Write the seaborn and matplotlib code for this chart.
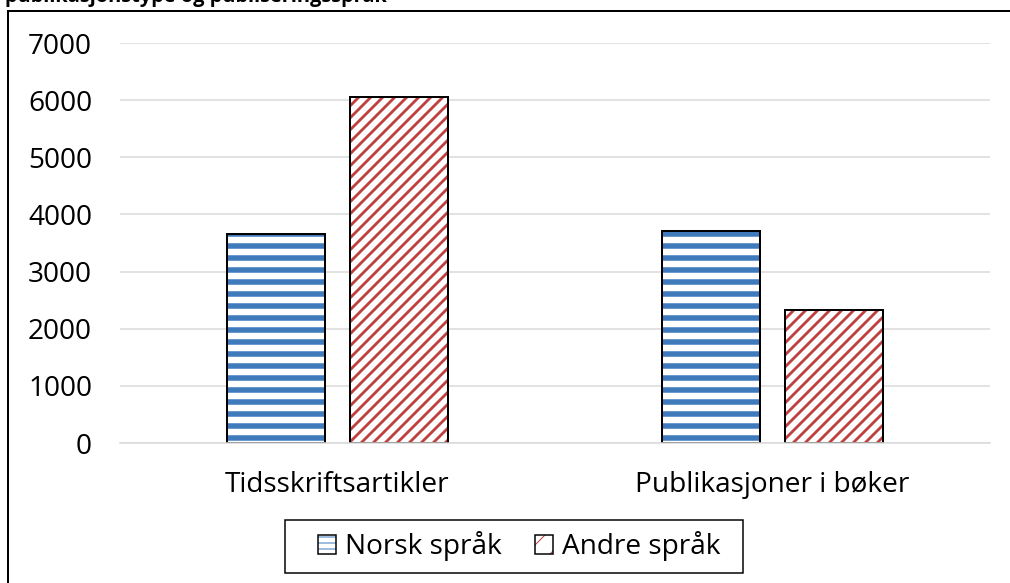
import matplotlib
matplotlib.use("Agg")
import pandas as pd
import matplotlib.pyplot as plt
import seaborn as sns
from matplotlib.patches import Patch, Rectangle
from matplotlib.legend_handler import HandlerTuple

# Data
kategorier = ["Tidsskriftsartikler", "Publikasjoner i bøker"]
spraak = ["Norsk språk", "Andre språk"]
norsk = [3660, 3710]
andre = [6050, 2330]
yticks = [0, 1000, 2000, 3000, 4000, 5000, 6000, 7000]
tittel = "publikasjonstype og publiseringsspråk"

df = pd.DataFrame({
    "kategori": kategorier * 2,
    "spraak": [spraak[0]] * len(kategorier) + [spraak[1]] * len(kategorier),
    "antall": norsk + andre,
})

sns.set_style("white")
plt.rcParams["font.family"] = ["Open Sans", "DejaVu Sans"]
plt.rcParams["text.color"] = "black"

blaa = "#3F7ABD"
roed = "#C0403F"
DPI = 72
W, H = 1010, 583
FS = 28


def hatch_lw(p, lw):
    if hasattr(p, "set_hatch_linewidth"):
        p.set_hatch_linewidth(lw)
    else:
        plt.rcParams["hatch.linewidth"] = lw


fig = plt.figure(figsize=(W / DPI, H / DPI), dpi=DPI)
ax = fig.add_axes([120 / W, 140 / H, 870 / W, 400 / H])

sns.barplot(data=df, x="kategori", y="antall", hue="spraak", hue_order=spraak,
            palette=["white", "white"], width=0.566, gap=0.21, errorbar=None,
            linewidth=0, legend=False, ax=ax)

# hatch the bars and put a black outline over them
bars = list(ax.patches)
n = len(kategorier)
for i, p in enumerate(bars):
    if i < n:
        p.set_edgecolor(blaa)
        p.set_hatch("-")
        hatch_lw(p, 5.5)
    else:
        p.set_edgecolor(roed)
        p.set_hatch("//")
        hatch_lw(p, 2.8)
    ax.add_patch(Rectangle(p.get_xy(), p.get_width(), p.get_height(), fill=False,
                           edgecolor="black", linewidth=2, zorder=p.get_zorder() + 0.1))

ax.set_ylim(0, 7000)
ax.set_xlim(-0.5, 1.5)
ax.set_yticks(yticks)
ax.set_xlabel("")
ax.set_ylabel("")
ax.yaxis.grid(True, color="#D9D9D9", linewidth=1.5)
ax.set_axisbelow(True)
for s in ["top", "right", "left"]:
    ax.spines[s].set_visible(False)
ax.spines["bottom"].set_color("#D9D9D9")
ax.spines["bottom"].set_linewidth(1.5)
ax.tick_params(axis="y", length=0, labelsize=FS, pad=28, labelcolor="black")
ax.tick_params(axis="x", length=0, labelsize=FS, pad=28, labelcolor="black")

# legend
h_norsk = Patch(facecolor="white", edgecolor=blaa, hatch="--", linewidth=0)
h_andre = Patch(facecolor="white", edgecolor=roed, hatch="/", linewidth=0)
hatch_lw(h_norsk, 3)
hatch_lw(h_andre, 5)
handles = [
    (h_norsk, Patch(fill=False, edgecolor="black", linewidth=1.5)),
    (h_andre, Patch(fill=False, edgecolor="black", linewidth=1.5)),
]
leg = fig.legend(handles, spraak, handler_map={tuple: HandlerTuple(ndivide=1, pad=0)},
                 loc="center", bbox_to_anchor=(519 / W, 1 - 546 / H), ncol=2,
                 fontsize=FS, frameon=False,
                 handlelength=0.65, handleheight=0.65, handletextpad=0.3,
                 columnspacing=1.2, borderpad=0.2)
# legend box
fig.add_artist(Rectangle((285 / W, 1 - 573 / H), 458 / W, 53 / H, fill=False,
                         edgecolor="black", linewidth=1.5, transform=fig.transFigure))

# outer frame and clipped title
fig.add_artist(Rectangle((8 / W, -0.2), 1.2, 1.2 - 11 / H, fill=False,
                         edgecolor="black", linewidth=2, transform=fig.transFigure))
fig.text(5 / W, 1 - 2 / H, tittel, fontsize=20, fontweight="bold", va="baseline")

fig.savefig("out.png", dpi=DPI)
